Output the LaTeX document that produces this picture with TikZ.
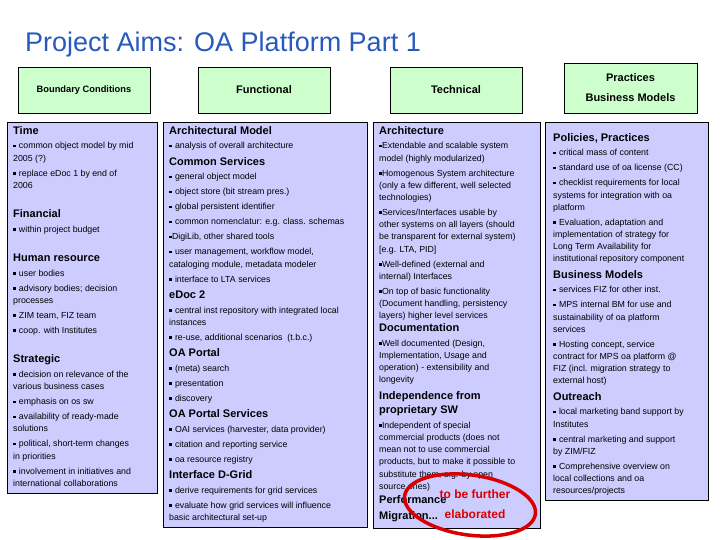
\documentclass[tikz,border=0pt]{standalone}
\usepackage{fontspec}
\setmainfont{Liberation Sans}
\definecolor{hdgreen}{RGB}{204,255,204}
\definecolor{bodyblue}{RGB}{204,204,255}
\definecolor{titleblue}{RGB}{40,90,190}
\newcommand\Hd[2][0pt]{\vspace*{#1}{\fontsize{11}{13.5}\selectfont\bfseries #2\par}\vspace{2.5pt}}
\newcommand\Bl[1]{{\fontsize{8.8}{12.2}\selectfont #1\par}\vspace{2.8pt}}
\newcommand\bu{\rule[1.5pt]{2.6pt}{2.6pt}\hspace{3.2pt}}
\tikzset{
 hdbox/.style={draw=black, fill=hdgreen, line width=0.6pt, align=center, font=\fontsize{11}{20}\selectfont\bfseries},
 bodybox/.style={draw=black, fill=bodyblue, line width=0.6pt},
 coltext/.style={anchor=north west, inner sep=0pt, text width=210pt, align=flush left},
}
\begin{document}
\begin{tikzpicture}[x=1pt,y=-1pt]
\useasboundingbox (0,0) rectangle (720,540);
\fill[white] (0,0) rectangle (720,540);
\node[anchor=base west, inner sep=0pt, text=titleblue, font=\fontsize{27}{30}\selectfont] (title) at (25,52) {Project Aims: OA Platform Part 1};
% headers
\node[hdbox, minimum width=132pt, minimum height=46pt, font=\fontsize{9.3}{11}\selectfont\bfseries] (h1) at (84,90) {Boundary Conditions};
\node[hdbox, minimum width=132pt, minimum height=46pt] (h2) at (264,90) {Functional};
\node[hdbox, minimum width=132pt, minimum height=46pt] (h3) at (456,90) {Technical};
\node[hdbox, minimum width=133pt, minimum height=50pt] (h4) at (630.5,88) {Practices\\Business Models};
% bodies
\node[bodybox, minimum width=150pt, minimum height=371pt] (b1) at (82,307.5) {};
\node[bodybox, minimum width=204pt, minimum height=405pt] (b2) at (265,324.5) {};
\node[bodybox, minimum width=167pt, minimum height=406pt] (b3) at (456.5,325) {};
\node[bodybox, minimum width=163pt, minimum height=378pt] (b4) at (626.5,311) {};
% column 1
\node[coltext] (t1) at (13,126) {%
\Hd{Time}
\Bl{\bu common object model by mid\newline 2005 (?)}
\Bl{\bu replace eDoc 1 by end of\newline 2006}
\Hd[13pt]{Financial}
\Bl{\bu within project budget}
\Hd[13pt]{Human resource}
\Bl{\bu user bodies}
\Bl{\bu advisory bodies; decision\newline processes}
\Bl{\bu ZIM team, FIZ team}
\Bl{\bu coop. with Institutes}
\Hd[13pt]{Strategic}
\Bl{\bu decision on relevance of the\newline various business cases}
\Bl{\bu emphasis on os sw}
\Bl{\bu availability of ready-made\newline solutions}
\Bl{\bu political, short-term changes\newline in priorities}
\Bl{\bu involvement in initiatives and\newline international collaborations}
};
% column 2
\node[coltext] (t2) at (169,126) {%
\Hd{Architectural Model}
\Bl{\bu analysis of overall architecture}
\Hd{Common Services}
\Bl{\bu general object model}
\Bl{\bu object store (bit stream pres.)}
\Bl{\bu global persistent identifier}
\Bl{\bu common nomenclatur: e.g. class. schemas}
\Bl{\bu\kern-3pt DigiLib, other shared tools}
\Bl{\bu user management, workflow model,\newline cataloging module, metadata modeler}
\Bl{\bu interface to LTA services}
\Hd{eDoc 2}
\Bl{\bu central inst repository with integrated local\newline instances}
\Bl{\bu re-use, additional scenarios \ (t.b.c.)}
\Hd{OA Portal}
\Bl{\bu (meta) search}
\Bl{\bu presentation}
\Bl{\bu discovery}
\Hd{OA Portal Services}
\Bl{\bu OAI services (harvester, data provider)}
\Bl{\bu citation and reporting service}
\Bl{\bu oa resource registry}
\Hd{Interface D-Grid}
\Bl{\bu derive requirements for grid services}
\Bl{\bu evaluate how grid services will influence\newline basic architectural set-up}
};
% column 3
\node[coltext] (t3) at (379,126) {%
\Hd{Architecture}
\Bl{\bu\kern-3pt Extendable and scalable system\newline model (highly modularized)}
\Bl{\bu\kern-3pt Homogenous System architecture\newline (only a few different, well selected\newline technologies)}
\Bl{\bu\kern-3pt Services/Interfaces usable by\newline other systems on all layers (should\newline be transparent for external system)\newline [e.g. LTA, PID]}
\Bl{\bu\kern-3pt Well-defined (external and\newline internal) Interfaces}
\Bl{\bu\kern-3pt On top of basic functionality\newline (Document handling, persistency\newline layers) higher level services}
\Hd[-3.5pt]{Documentation}
\Bl{\bu\kern-3pt Well documented (Design,\newline Implementation, Usage and\newline operation) - extensibility and\newline longevity}
\Hd{Independence from\\[1pt] proprietary SW}
\Bl{\bu\kern-3pt Independent of special\newline commercial products (does not\newline mean not to use commercial\newline products, but to make it possible to\newline substitute them, e.g. by open\newline source ones)}
\Hd[-2.5pt]{Performance}
\Hd[0pt]{Migration...}
};
% column 4
\node[coltext] (t4) at (553,133) {%
\Hd{Policies, Practices}
\Bl{\bu critical mass of content}
\Bl{\bu standard use of oa license (CC)}
\Bl{\bu checklist requirements for local\newline systems for integration with oa\newline platform}
\Bl{\bu Evaluation, adaptation and\newline implementation of strategy for\newline Long Term Availability for\newline institutional repository component}
\Hd{Business Models}
\Bl{\bu services FIZ for other inst.}
\Bl{\bu MPS internal BM for use and\newline sustainability of oa platform\newline services}
\Bl{\bu Hosting concept, service\newline contract for MPS oa platform @\newline FIZ (incl. migration strategy to\newline external host)}
\Hd{Outreach}
\Bl{\bu local marketing band support by\newline Institutes}
\Bl{\bu central marketing and support\newline by ZIM/FIZ}
\Bl{\bu Comprehensive overview on\newline local collections and oa\newline resources/projects}
};
% red ellipse
\draw[red!85!black, line width=3.5pt, rotate around={-8:(470,505)}] (470,505) ellipse [x radius=66pt, y radius=30pt];
\node[text=red!85!black, font=\fontsize{12}{20}\selectfont\bfseries, align=center, inner sep=0pt] (note) at (475,504) {to be further\\elaborated};
\end{tikzpicture}
\end{document}
